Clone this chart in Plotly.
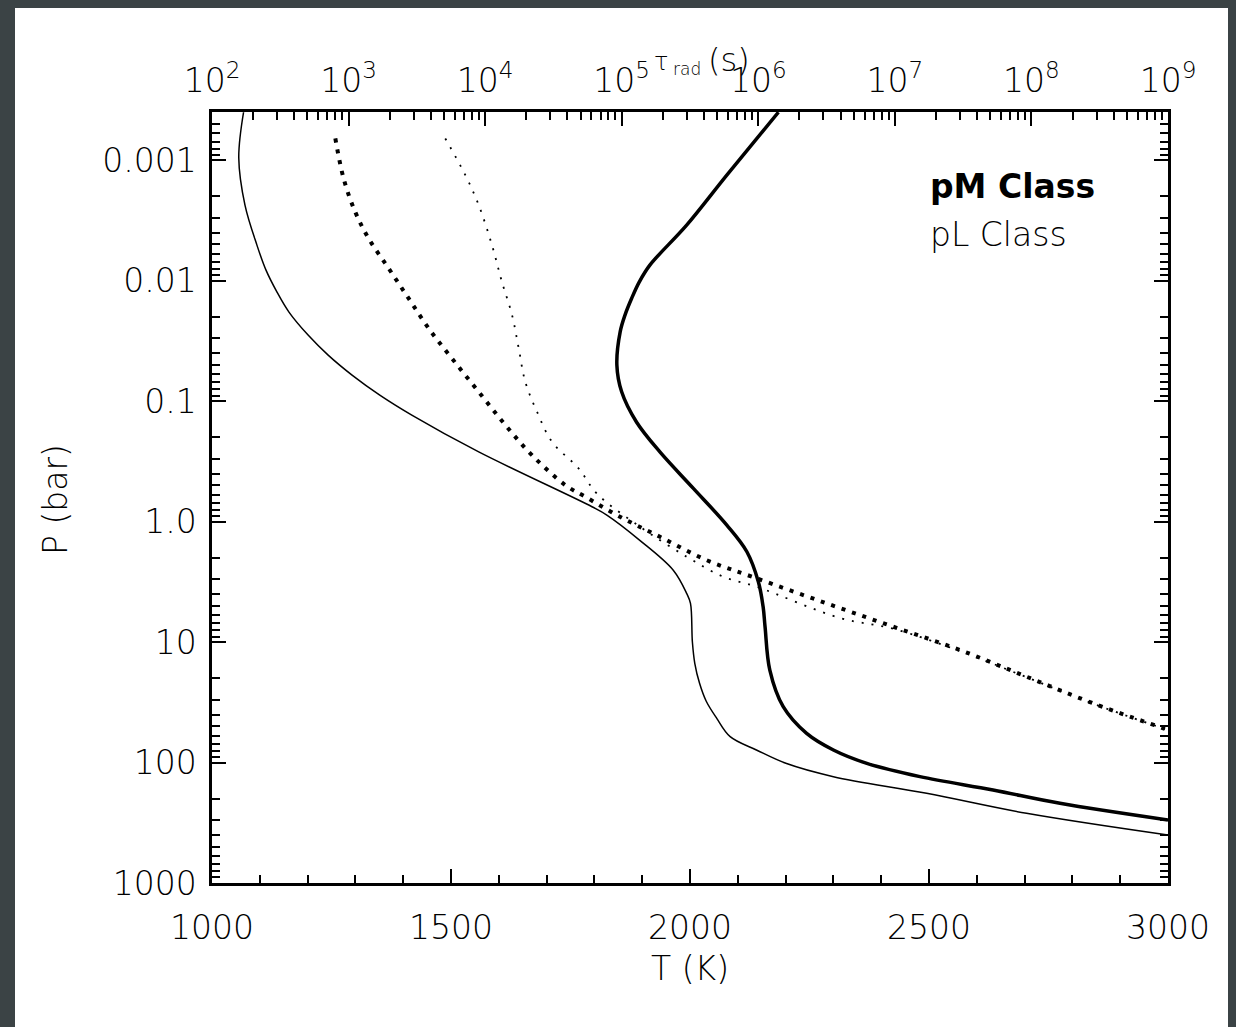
import plotly.graph_objects as go

# ---- data ----
# pL class T-P profile (thin solid)
T_pL = [1066, 1056, 1069, 1094, 1113, 1136, 1161, 1201, 1243, 1293, 1351, 1418, 1558, 1795,
        1826, 1895, 1965, 1993, 2001, 2005, 2010, 2020, 2034, 2056, 2084, 2140, 2202, 2300,
        2495, 2704, 3000]
P_pL = [0.0004, 0.00096, 0.00236, 0.00507, 0.00818, 0.01245, 0.01824, 0.0283, 0.0415, 0.0608,
        0.0891, 0.1306, 0.264, 0.753, 0.883, 1.43, 2.53, 3.94, 4.77, 10.0, 15.0, 22.0, 31.0,
        43.0, 61.0, 79.0, 102, 131, 180, 264, 400]

# pM class T-P profile (thick solid)
T_pM = [2185, 2077, 1993, 1916, 1894, 1878, 1864, 1854, 1847, 1857, 1888, 1937, 2007,
        2077, 2119, 2143, 2153, 2157, 2167, 2195, 2244, 2300, 2370, 2481, 2634, 2774, 3000]
P_pM = [0.0004, 0.00133, 0.00346, 0.00743, 0.01023, 0.0140, 0.0193, 0.0265, 0.0502,
        0.0837, 0.149, 0.264, 0.530, 1.07, 1.78, 3.16, 5.10, 7.46, 17.1, 34.4, 57.3, 78.7,
        101.6, 131, 169, 218, 300]

# pM class radiative time scale (thick dotted, top axis)
tau_pM = [800, 920, 1119, 1403, 1968, 2754, 3864, 5715, 8974, 14060, 22030, 38640, 54080,
          97050, 190500, 418800, 972800, 3.17e6, 9.75e6, 3.0e7, 9.226e7, 2.838e8, 9.247e8, 1.0e9]
Ptau_pM = [0.00066, 0.00142, 0.00269, 0.00447, 0.00793, 0.01406, 0.02495, 0.04426, 0.0838,
           0.158, 0.281, 0.498, 0.622, 0.912, 1.337, 2.089, 2.958, 4.775, 7.464, 11.64, 19.41,
           32.28, 52.0, 53.7]

# pL class radiative time scale (thin dotted, top axis)
tau_pL = [5105, 7161, 8974, 11220, 13270, 15740, 17620, 19680, 23990, 30900, 48420, 65610,
          136100, 299200, 554600, 972800, 3.963e6, 9.75e6, 3.0e7, 9.226e7, 2.838e8, 9.247e8, 1.0e9]
Ptau_pL = [0.00066, 0.00133, 0.00236, 0.00507, 0.01023, 0.01932, 0.03656, 0.06918, 0.1227,
           0.2178, 0.3622, 0.5834, 1.104, 1.959, 2.871, 3.475, 6.31, 7.76, 11.89, 19.59, 32.51,
           52.24, 53.95]

# tick labels
p_ticks = [0.001, 0.01, 0.1, 1, 10, 100, 1000]
p_labels = ["0.001", "0.01", "0.1", "1.0", "10", "100", "1000"]
tau_ticks = [1e2, 1e3, 1e4, 1e5, 1e6, 1e7, 1e8, 1e9]
tau_labels = ["10<sup>%d</sup>" % k for k in range(2, 10)]
t_ticks = [1000, 1500, 2000, 2500, 3000]

FONT = "DejaVu Sans"
FS = 33
SM = 1.0

p_minor = [m * 10.0 ** e for e in range(-4, 3) for m in range(2, 10)]
tau_minor = [m * 10.0 ** e for e in range(2, 9) for m in range(2, 10)]

fig = go.Figure()
fig.add_trace(go.Scatter(x=T_pL, y=P_pL, mode="lines", xaxis="x", yaxis="y",
                         line=dict(color="black", width=1.5, shape="spline", smoothing=SM),
                         name="pL T-P", showlegend=False))
fig.add_trace(go.Scatter(x=T_pM, y=P_pM, mode="lines", xaxis="x", yaxis="y",
                         line=dict(color="black", width=3.5, shape="spline", smoothing=SM),
                         name="pM T-P", showlegend=False))
fig.add_trace(go.Scatter(x=tau_pM, y=Ptau_pM, mode="lines", xaxis="x2", yaxis="y",
                         line=dict(color="black", width=4, dash="4px,7px", shape="spline", smoothing=SM),
                         name="pM tau", showlegend=False))
fig.add_trace(go.Scatter(x=tau_pL, y=Ptau_pL, mode="lines", xaxis="x2", yaxis="y",
                         line=dict(color="black", width=1.8, dash="2px,8px", shape="spline", smoothing=SM),
                         name="pL tau", showlegend=False))
# invisible trace on the right axis so it is drawn
fig.add_trace(go.Scatter(x=[None], y=[None], xaxis="x", yaxis="y2", showlegend=False))

tickfont = dict(family=FONT, size=FS, color="black", weight=200)

fig.update_layout(
    width=1236, height=1027,
    margin=dict(l=212, r=68, t=112, b=144),
    paper_bgcolor="#3b4345", plot_bgcolor="white",
    showlegend=False,
    xaxis=dict(range=[1000, 3000], tickvals=t_ticks, ticks="inside", ticklen=14, tickwidth=2,
               tickcolor="black", showline=True, linecolor="black", linewidth=2.5,
               showgrid=False, zeroline=False, mirror=False, tickfont=tickfont,
               ticklabelstandoff=14,
               minor=dict(dtick=100, ticks="inside", ticklen=8, tickwidth=2, tickcolor="black",
                          showgrid=False)),
    xaxis2=dict(type="log", range=[2, 9], overlaying="x", side="top", anchor="y",
                tickvals=tau_ticks, ticktext=tau_labels, ticks="inside", ticklen=14, tickwidth=2,
                tickcolor="black", showline=True, linecolor="black", linewidth=2.5,
                showgrid=False, zeroline=False, tickfont=tickfont, ticklabelstandoff=4,
                minor=dict(tickmode="array", tickvals=tau_minor, ticks="inside", ticklen=8,
                           tickwidth=2, tickcolor="black", showgrid=False)),
    yaxis=dict(type="log", range=[3, -3.4], tickvals=p_ticks, ticktext=p_labels,
               ticks="inside", ticklen=14, tickwidth=2, tickcolor="black",
               showline=True, linecolor="black", linewidth=2.5, showgrid=False, zeroline=False,
               tickfont=tickfont, ticklabelstandoff=6,
               minor=dict(tickmode="array", tickvals=p_minor, ticks="inside", ticklen=8,
                          tickwidth=2, tickcolor="black", showgrid=False)),
    yaxis2=dict(type="log", range=[3, -3.4], overlaying="y", side="right", anchor="x",
                tickvals=p_ticks, showticklabels=False,
                ticks="inside", ticklen=14, tickwidth=2, tickcolor="black",
                showline=True, linecolor="black", linewidth=2.5, showgrid=False, zeroline=False,
                minor=dict(tickmode="array", tickvals=p_minor, ticks="inside", ticklen=8,
                           tickwidth=2, tickcolor="black", showgrid=False)),
)

# white panel behind the plot
def px2x(px):
    return (px - 212) / 956.0

def py2y(py):
    return (883 - py) / 771.0

fig.add_shape(type="rect", xref="paper", yref="paper",
              x0=px2x(15), x1=px2x(1228), y0=py2y(1040), y1=py2y(8),
              fillcolor="white", line=dict(width=0), layer="below")

def ann(text, px, py, size, xanchor="center", angle=0, weight=200):
    fig.add_annotation(text=text, x=px2x(px), y=py2y(py), xref="paper", yref="paper",
                       xanchor=xanchor, yanchor="middle", showarrow=False, textangle=angle,
                       font=dict(family=FONT, size=size, color="black", weight=weight))

ann("T (K)", 690, 968, FS)
ann("P (bar)", 55, 500, FS, angle=-90)
ann("τ", 652, 62, 24, xanchor="left")
ann("rad", 671, 69, 17, xanchor="left")
ann("(s)", 706, 60, 32, xanchor="left")
ann("pM Class", 928, 186, FS, xanchor="left", weight=700)
ann("pL Class", 928, 234, FS, xanchor="left")

fig.write_html("out.html")
